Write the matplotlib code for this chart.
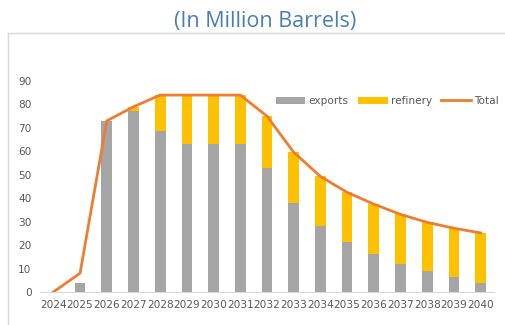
import numpy as np
import matplotlib.pyplot as plt
from matplotlib.lines import Line2D

years = ['2024', '2025', '2026', '2027', '2028', '2029', '2030', '2031', '2032',
         '2033', '2034', '2035', '2036', '2037', '2038', '2039', '2040']
exports = [0, 4, 73, 77, 68.5, 63, 63, 63, 53, 38, 28, 21.5, 16, 12, 9, 6.3, 4]
total = [0, 8, 73, 79, 84, 84, 84, 84, 75, 59.6, 49.3, 42.5, 37.5, 33.1, 29.7, 27.2, 25.2]
refinery = [t - e if t > e else 0 for t, e in zip(total, exports)]
refinery[1] = 0  # 2025 total sits above the bar with no refinery part

fig = plt.figure(figsize=(5.05, 3.25), dpi=100)
ax = fig.add_axes([40 / 505, 1 - 292 / 325, 454 / 505, 211 / 325])

x = np.arange(len(years))
b1 = ax.bar(x, exports, width=0.4, color='#a5a5a5', label='exports', zorder=2)
b2 = ax.bar(x, refinery, width=0.4, bottom=exports, color='#ffc000', label='refinery', zorder=2)
l1, = ax.plot(x, total, color='#ed7d31', linewidth=2, label='Total', zorder=3)

ax.set_xlim(-0.5, len(years) - 0.5)
ax.set_ylim(0, 90)
ax.set_yticks(range(0, 91, 10))
ax.set_xticks(x)
ax.set_xticklabels(years)
ax.tick_params(length=0, labelsize=7.6, colors='#595959', pad=6)
for s in ['top', 'right', 'left']:
    ax.spines[s].set_visible(False)
ax.spines['bottom'].set_color('#d9d9d9')

ax.legend([b1, b2, l1], ['exports', 'refinery', 'Total'],
          loc='center', bbox_to_anchor=(0.765, 0.905), ncol=3, frameon=False,
          fontsize=7.6, handlelength=2.8, handleheight=0.7, columnspacing=0.9,
          handletextpad=0.3, labelcolor='#595959')

fig.text(0.525, 0.935, '(In Million Barrels)', ha='center', va='center',
         fontsize=15.5, color='#4a7fb5', family='Open Sans')

# outer chart frame
fig.add_artist(Line2D([8 / 505, 1], [1 - 33 / 325] * 2, color='#d9d9d9', lw=1))
fig.add_artist(Line2D([8 / 505] * 2, [0, 1 - 33 / 325], color='#d9d9d9', lw=1))

fig.savefig('out.png', dpi=100)
